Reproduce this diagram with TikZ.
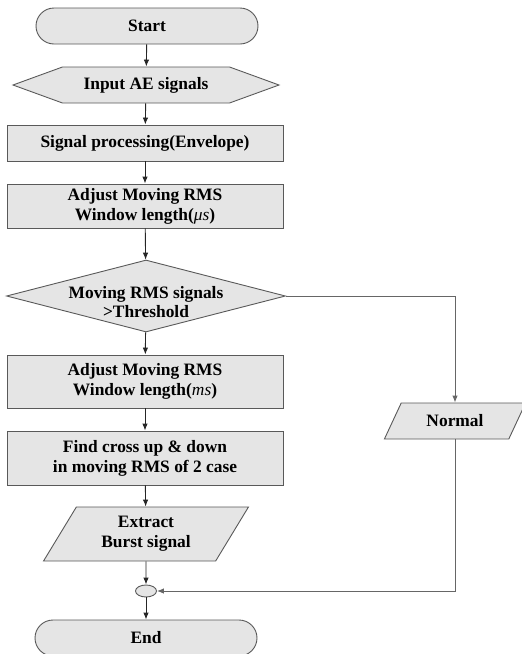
\documentclass[tikz,border=0pt]{standalone}
\usepackage{fontspec}
\setmainfont{Liberation Serif}
\usetikzlibrary{arrows.meta, shapes.geometric, shapes.misc, shapes.symbols}

\begin{document}
\begin{tikzpicture}[x=1pt, y=-1pt, >={Latex[length=7pt,width=5.5pt]},
    base/.style={draw=black!65, fill=black!10, line width=0.9pt, inner sep=0pt, align=center,
        font=\fontsize{17.4}{19.8}\selectfont\bfseries},
    term/.style={base, rounded rectangle, minimum width=222, minimum height=36},
    inbox/.style={base, signal, signal to=west and east, signal pointer angle=40, minimum width=266, minimum height=36},
    stepbox/.style={base, rectangle, minimum width=276},
    decide/.style={base, diamond, minimum width=279, minimum height=72},
    io/.style={base, trapezium, trapezium left angle=#1, trapezium right angle=180-#1, trapezium stretches=true},
    link/.style={->, line width=0.9pt, black!85}]
    \useasboundingbox (0,0) rectangle (522,654);

    % Draw Main Column
    \node[term] (start) at (147,26) {Start};
    \node[inbox] (input) at (146,85) {Input AE signals};
    \node[stepbox, minimum height=36] (proc) at (145,143) {Signal processing(Envelope)};
    \node[stepbox, minimum height=44] (adjus) at (145,206) {Adjust Moving RMS\\Window length(\textmd{\itshape μs})};
    \node[decide, label={[base, draw=none, fill=none, yshift=-6]center:Moving RMS signals\\>Threshold}] (cond) at (146,296) {};
    \node[stepbox, minimum height=53] (adjms) at (145,381.5) {Adjust Moving RMS\\Window length(\textmd{\itshape ms})};
    \node[stepbox, minimum height=54] (cross) at (145,458) {Find cross up \& down\\in moving RMS of 2 case};
    \node[io=59, minimum width=205, minimum height=54] (extract) at (146,534) {Extract\\Burst signal};
    \node[base, ellipse, minimum width=21, minimum height=12] (merge) at (146,591) {};
    \node[term] (end) at (146,638) {End};

    % Draw Side Branch
    \node[io=54, minimum width=142, minimum height=36] (normal) at (455,421) {Normal};

    % Draw Connectors
    \draw[link] (start) -- (input);
    \draw[link] (input) -- (proc);
    \draw[link] (proc) -- (adjus);
    \draw[link] (adjus) -- (cond);
    \draw[link] (cond) -- (adjms);
    \draw[link] (adjms) -- (cross);
    \draw[link] (cross) -- (extract);
    \draw[link] (extract) -- (merge);
    \draw[link] (merge) -- (end);
    \draw[link, black!60] (cond.east) -| (normal.north);
    \draw[link, black!60] (normal.south) |- (merge.east);
\end{tikzpicture}
\end{document}
